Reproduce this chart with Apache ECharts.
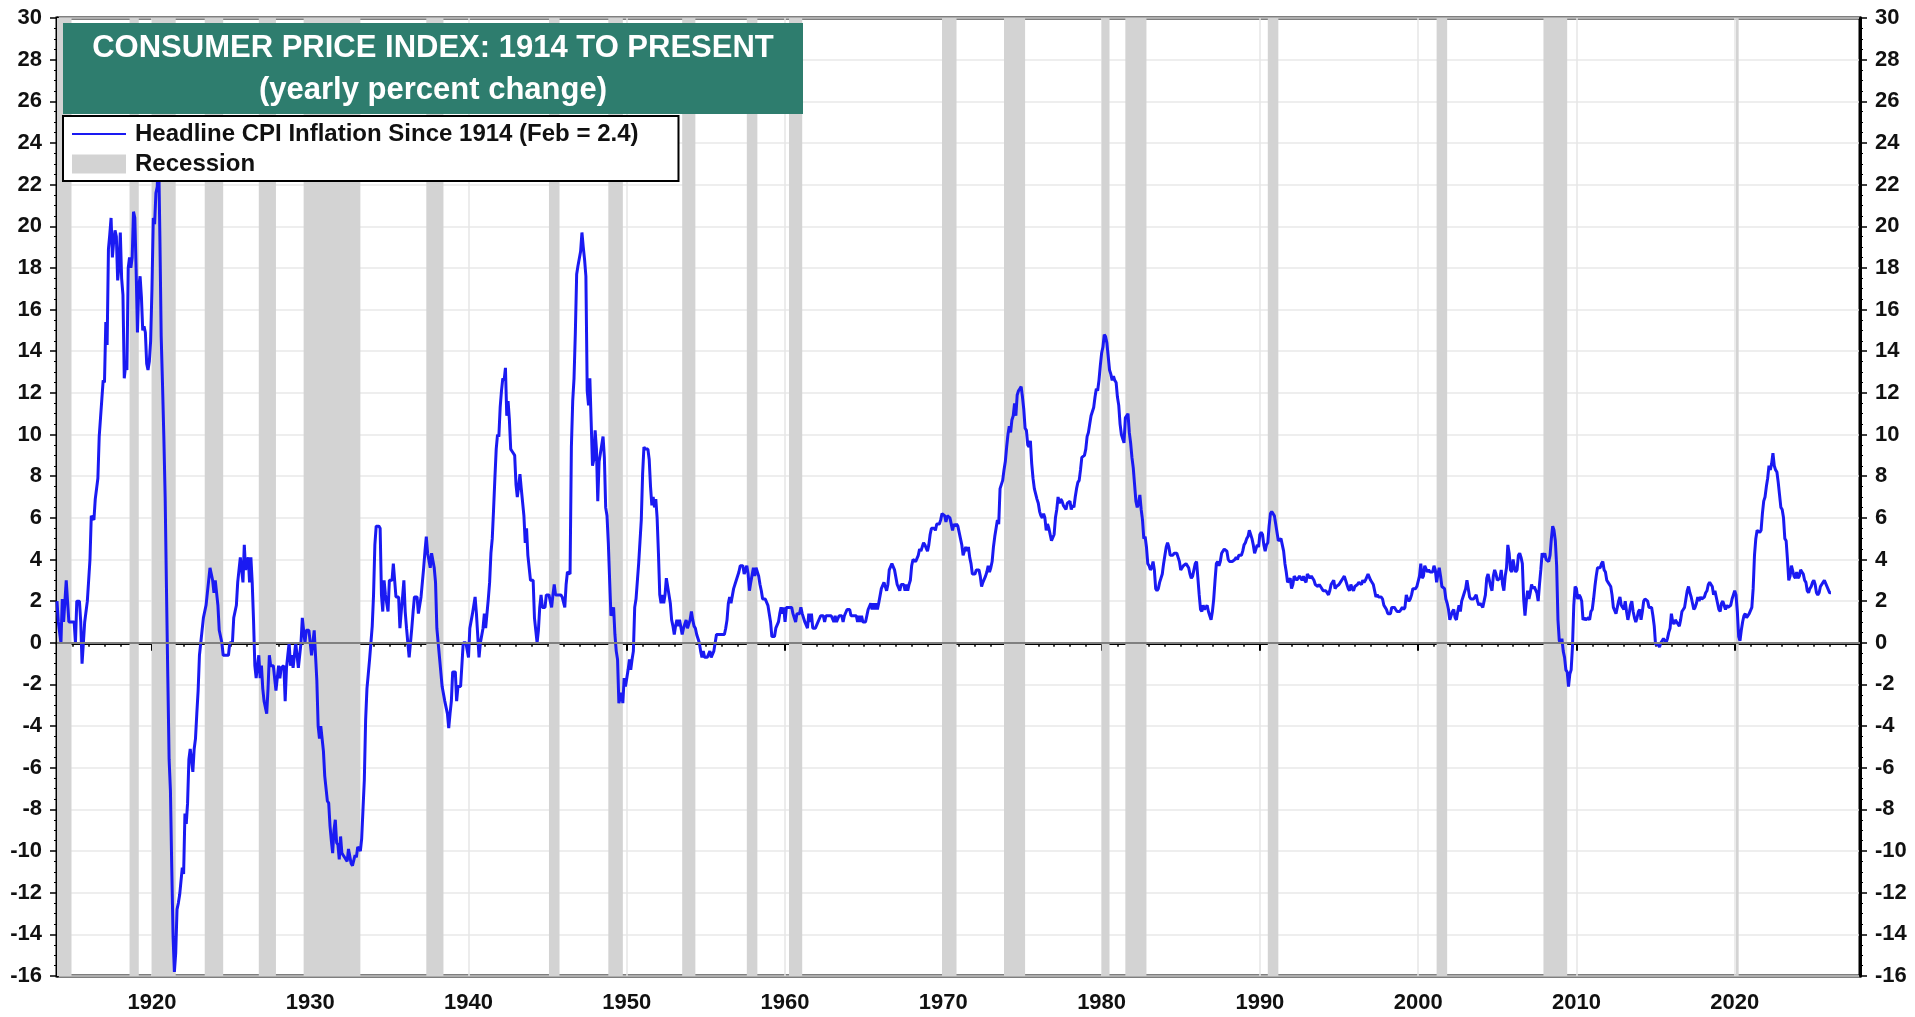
<!DOCTYPE html>
<html>
<head>
<meta charset="utf-8">
<title>Consumer Price Index: 1914 to Present</title>
<script src="https://cdn.jsdelivr.net/npm/echarts@6/dist/echarts.min.js"></script>
<style>
  html, body { margin: 0; padding: 0; background: #fff; }
  #chart { width: 1915px; height: 1017px; }
</style>
</head>
<body>
<div id="chart"></div>
<script>
// Headline CPI, yearly percent change, monthly from Jan 1914
const firstYear = 1914;
const lastAxisYear = 2027;

const cpi1910s = [
  2.0, 1.0, 1.0, 0.0, 2.1, 1.0, 1.0, 3.0, 2.0, 1.0, 1.0, 1.0,
  1.0, 1.0, 0.0, 2.0, 2.0, 2.0, 1.0, -1.0, -1.0, 1.0, 1.0, 2.0,
  3.0, 4.0, 6.1, 6.0, 5.9, 6.9, 6.9, 7.9, 9.9, 10.8, 11.7, 12.6,
  12.5, 15.4, 14.3, 18.9, 19.6, 20.4, 18.5, 19.3, 19.8, 19.5, 17.4, 18.1,
  19.7, 17.5, 16.7, 12.7, 13.3, 13.1, 18.0, 18.5, 18.0, 18.5, 20.7, 20.4,
  17.9, 14.9, 17.1, 17.6, 16.6, 15.0, 15.2, 14.9, 13.4, 13.1, 13.5, 14.5
];
const cpi1920s = [
  17.0, 20.4, 20.1, 21.6, 21.9, 23.7, 19.5, 14.7, 12.4, 9.9, 7.0, 2.6,
  -1.6, -5.6, -7.1, -10.8, -14.1, -15.8, -14.9, -12.8, -12.5, -12.1, -12.1, -10.8,
  -11.1, -8.2, -8.7, -7.7, -5.6, -5.1, -5.1, -6.2, -5.1, -4.6, -3.4, -2.3,
  -0.6, -0.6, 0.6, 1.2, 1.2, 1.8, 2.4, 3.0, 3.6, 3.6, 3.0, 2.4,
  3.0, 2.4, 1.8, 0.6, 0.6, 0.0, -0.6, -0.6, -0.6, -0.6, -0.6, 0.0,
  0.0, 0.0, 1.2, 1.2, 1.8, 2.9, 3.5, 4.1, 3.5, 2.9, 4.7, 3.5,
  3.5, 4.1, 2.9, 4.1, 2.9, 1.1, -1.1, -1.7, -1.1, -0.6, -1.7, -1.1,
  -2.2, -2.8, -2.8, -3.4, -2.2, -0.6, -1.1, -1.1, -1.1, -1.1, -2.3, -2.3,
  -1.1, -1.7, -1.2, -1.2, -1.1, -2.8, -1.2, -0.6, 0.0, -1.1, -0.6, -1.2,
  -1.2, 0.0, -0.6, -1.2, -1.2, 0.0, 1.2, 1.2, 0.0, 0.6, 0.6, 0.6
];
const cpi1930s = [
  0.0, -0.6, -0.6, 0.6, -0.6, -1.8, -4.0, -4.6, -4.0, -4.6, -5.2, -6.4,
  -7.0, -7.6, -7.7, -8.8, -9.5, -10.1, -9.0, -8.5, -9.6, -9.7, -10.4, -9.3,
  -10.1, -10.2, -10.3, -10.3, -10.5, -9.9, -9.9, -10.6, -10.7, -10.7, -10.2, -10.3,
  -9.8, -9.9, -10.0, -9.4, -8.0, -6.6, -3.7, -2.2, -1.5, -0.8, 0.0, 0.8,
  2.3, 4.7, 5.6, 5.6, 5.6, 5.5, 2.3, 1.5, 3.0, 2.3, 2.3, 1.5,
  3.0, 3.0, 3.0, 3.8, 3.8, 2.2, 2.2, 2.2, 0.7, 1.5, 2.2, 3.0,
  1.5, 0.7, 0.0, -0.7, -0.7, 0.7, 1.5, 2.2, 2.2, 2.2, 1.4, 1.4,
  2.2, 2.2, 3.6, 4.4, 5.1, 4.3, 4.3, 3.6, 4.3, 4.3, 3.6, 2.9,
  0.7, 0.0, -0.7, -0.7, -2.1, -2.1, -2.8, -2.8, -3.4, -4.1, -3.4, -2.8,
  -1.4, -1.4, -1.4, -2.8, -2.1, -2.1, -2.1, -2.1, 0.0, 0.0, 0.0, 0.0
];
const cpi1940s = [
  -0.7, 0.7, 0.7, 1.4, 1.4, 2.2, 1.4, 1.4, -0.7, 0.0, 0.0, 0.7,
  1.4, 0.7, 1.4, 2.1, 2.9, 4.3, 5.0, 6.4, 7.9, 9.3, 10.0, 9.9,
  11.3, 12.1, 12.7, 12.6, 13.2, 10.9, 11.6, 10.7, 9.3, 9.2, 9.1, 9.0,
  7.6, 7.0, 7.5, 8.1, 7.4, 7.4, 6.1, 4.8, 5.5, 4.2, 3.6, 3.0,
  3.0, 3.0, 1.2, 0.6, 0.0, 0.6, 1.7, 2.3, 1.7, 1.7, 1.7, 2.3,
  2.3, 2.3, 2.3, 1.7, 2.3, 2.8, 2.3, 2.3, 2.3, 2.3, 2.3, 2.2,
  2.2, 1.7, 2.8, 3.4, 3.4, 3.3, 9.4, 11.6, 12.7, 14.9, 17.7, 18.1,
  18.1, 18.8, 19.7, 19.0, 18.4, 17.6, 12.1, 11.4, 12.7, 10.6, 8.5, 8.8,
  10.2, 9.3, 6.8, 8.7, 9.1, 9.5, 9.9, 8.9, 6.5, 6.1, 4.8, 3.0,
  1.3, 1.3, 1.7, 0.4, -0.4, -0.8, -2.9, -2.9, -2.4, -2.9, -1.7, -2.1
];
const cpi1950s = [
  -2.1, -1.3, -0.8, -1.3, -0.8, -0.4, 1.7, 2.1, 2.1, 3.8, 3.8, 5.9,
  8.1, 9.4, 9.3, 9.3, 9.3, 8.8, 7.5, 6.6, 7.0, 6.5, 6.9, 6.0,
  4.3, 2.3, 1.9, 2.3, 1.9, 2.3, 3.1, 3.1, 2.3, 1.9, 1.1, 0.8,
  0.4, 0.8, 1.1, 0.8, 1.1, 1.1, 0.4, 0.7, 0.7, 1.1, 0.7, 0.7,
  1.1, 1.5, 1.1, 0.8, 0.7, 0.4, 0.4, 0.0, -0.4, -0.7, -0.4, -0.7,
  -0.7, -0.7, -0.7, -0.4, -0.7, -0.7, -0.4, -0.4, 0.4, 0.4, 0.4, 0.4,
  0.4, 0.4, 0.4, 0.7, 1.1, 1.9, 2.2, 1.9, 1.9, 2.6, 2.6, 3.0,
  3.0, 3.4, 3.7, 3.7, 3.7, 3.3, 3.3, 3.7, 3.3, 2.5, 2.9, 2.9,
  3.6, 3.2, 3.6, 3.6, 3.2, 2.8, 2.5, 2.1, 2.1, 2.1, 2.1, 1.8,
  1.4, 1.0, 0.3, 0.3, 0.3, 0.7, 0.7, 1.0, 1.4, 1.7, 1.4, 1.7
];
const cpi1960s = [
  1.0, 1.7, 1.7, 1.7, 1.7, 1.7, 1.4, 1.4, 1.0, 1.4, 1.4, 1.4,
  1.7, 1.4, 1.4, 1.0, 1.0, 0.7, 1.4, 1.0, 1.4, 0.7, 0.7, 0.7,
  0.7, 1.0, 1.0, 1.3, 1.3, 1.3, 1.0, 1.3, 1.3, 1.3, 1.3, 1.3,
  1.3, 1.0, 1.3, 1.0, 1.0, 1.3, 1.3, 1.3, 1.0, 1.3, 1.3, 1.6,
  1.6, 1.6, 1.3, 1.3, 1.3, 1.3, 1.3, 1.0, 1.3, 1.0, 1.3, 1.0,
  1.0, 1.0, 1.3, 1.6, 1.6, 1.9, 1.6, 1.9, 1.6, 1.9, 1.6, 1.9,
  1.9, 2.6, 2.6, 2.9, 2.9, 2.5, 2.8, 3.5, 3.5, 3.8, 3.8, 3.5,
  3.5, 2.8, 2.8, 2.5, 2.8, 2.8, 2.8, 2.5, 2.8, 2.5, 2.8, 3.0,
  3.7, 4.0, 4.0, 3.9, 3.9, 4.2, 4.5, 4.4, 4.4, 4.8, 4.7, 4.7,
  4.4, 4.7, 5.2, 5.5, 5.5, 5.5, 5.4, 5.7, 5.7, 5.7, 5.9, 6.2
];
const cpi1970s = [
  6.2, 6.1, 5.8, 6.1, 6.1, 6.0, 6.0, 5.4, 5.7, 5.6, 5.7, 5.6,
  5.3, 5.0, 4.7, 4.2, 4.4, 4.6, 4.4, 4.6, 4.1, 3.8, 3.3, 3.3,
  3.3, 3.5, 3.5, 3.5, 3.2, 2.7, 2.9, 2.9, 3.2, 3.4, 3.7, 3.4,
  3.6, 3.9, 4.6, 5.1, 5.5, 5.9, 5.7, 7.4, 7.4, 7.8, 8.3, 8.7,
  9.4, 10.0, 10.4, 10.1, 10.7, 10.9, 11.5, 10.9, 11.9, 12.1, 12.2, 12.3,
  11.8, 11.2, 10.3, 10.2, 9.5, 9.4, 9.7, 8.6, 7.9, 7.4, 7.4, 6.9,
  6.7, 6.3, 6.1, 6.0, 6.2, 6.0, 5.4, 5.7, 5.5, 5.5, 4.9, 4.9,
  5.2, 6.0, 6.4, 7.0, 6.7, 6.9, 6.8, 6.6, 6.6, 6.4, 6.7, 6.7,
  6.8, 6.4, 6.6, 6.5, 7.0, 7.4, 7.7, 7.8, 8.3, 8.9, 8.9, 9.0,
  9.3, 9.9, 10.1, 10.5, 10.9, 10.9, 11.3, 11.8, 12.2, 12.1, 12.6, 13.3
];
const cpi1980s = [
  13.9, 14.2, 14.8, 14.7, 14.4, 14.4, 13.1, 12.9, 12.6, 12.8, 12.6, 12.5,
  11.8, 11.4, 10.5, 10.0, 9.8, 9.6, 10.8, 10.8, 11.0, 10.1, 9.6, 8.9,
  8.4, 7.6, 6.8, 6.5, 6.7, 7.1, 6.4, 5.9, 5.0, 5.1, 4.6, 3.8,
  3.7, 3.5, 3.6, 3.9, 3.5, 2.6, 2.5, 2.6, 2.9, 2.9, 3.3, 3.8,
  4.2, 4.6, 4.8, 4.6, 4.2, 4.2, 4.2, 4.3, 4.3, 4.3, 4.1, 3.9,
  3.5, 3.5, 3.7, 3.7, 3.8, 3.8, 3.6, 3.3, 3.1, 3.2, 3.5, 3.8,
  3.9, 3.1, 2.3, 1.6, 1.5, 1.8, 1.6, 1.6, 1.8, 1.5, 1.3, 1.1,
  1.5, 2.1, 3.0, 3.8, 3.9, 3.7, 3.9, 4.3, 4.4, 4.5, 4.5, 4.4,
  4.0, 3.9, 3.9, 3.9, 3.9, 4.0, 4.1, 4.0, 4.2, 4.2, 4.2, 4.4,
  4.7, 4.8, 5.0, 5.1, 5.4, 5.2, 5.0, 4.7, 4.3, 4.5, 4.7, 4.6
];
const cpi1990s = [
  5.2, 5.3, 5.2, 4.7, 4.4, 4.7, 4.8, 5.6, 6.2, 6.3, 6.3, 6.1,
  5.7, 5.3, 4.9, 4.9, 5.0, 4.7, 4.4, 3.8, 3.4, 2.9, 3.0, 3.1,
  2.6, 2.8, 3.2, 3.2, 3.0, 3.1, 3.2, 3.1, 3.0, 3.2, 3.0, 2.9,
  3.3, 3.2, 3.1, 3.2, 3.2, 3.0, 2.8, 2.8, 2.7, 2.8, 2.7, 2.7,
  2.5, 2.5, 2.5, 2.4, 2.3, 2.5, 2.8, 2.9, 3.0, 2.6, 2.7, 2.7,
  2.8, 2.9, 2.9, 3.1, 3.2, 3.0, 2.8, 2.6, 2.5, 2.8, 2.6, 2.5,
  2.7, 2.7, 2.8, 2.9, 2.9, 2.8, 3.0, 2.9, 3.0, 3.0, 3.3, 3.3,
  3.0, 3.0, 2.8, 2.5, 2.2, 2.3, 2.2, 2.2, 2.2, 2.1, 1.8, 1.7,
  1.6, 1.4, 1.4, 1.4, 1.7, 1.7, 1.7, 1.6, 1.5, 1.5, 1.5, 1.6,
  1.7, 1.6, 1.7, 2.3, 2.1, 2.0, 2.1, 2.3, 2.6, 2.6, 2.6, 2.7
];
const cpi2000s = [
  2.7, 3.2, 3.8, 3.1, 3.2, 3.7, 3.7, 3.4, 3.5, 3.4, 3.4, 3.4,
  3.7, 3.5, 2.9, 3.3, 3.6, 3.2, 2.7, 2.7, 2.6, 2.1, 1.9, 1.6,
  1.1, 1.1, 1.5, 1.6, 1.2, 1.1, 1.5, 1.8, 1.5, 2.0, 2.2, 2.4,
  2.6, 3.0, 3.0, 2.2, 2.1, 2.1, 2.1, 2.2, 2.3, 2.0, 1.8, 1.9,
  1.9, 1.7, 1.7, 2.3, 3.1, 3.3, 3.0, 2.7, 2.5, 3.2, 3.5, 3.3,
  3.0, 3.0, 3.1, 3.5, 2.8, 2.5, 3.2, 3.6, 4.7, 4.3, 3.5, 3.4,
  4.0, 3.6, 3.4, 3.5, 4.2, 4.3, 4.1, 3.8, 2.1, 1.3, 2.0, 2.5,
  2.1, 2.4, 2.8, 2.6, 2.7, 2.7, 2.4, 2.0, 2.8, 3.5, 4.3, 4.1,
  4.3, 4.0, 4.0, 3.9, 4.2, 5.0, 5.6, 5.4, 4.9, 3.7, 1.1, 0.1,
  0.0, 0.2, -0.4, -0.7, -1.3, -1.4, -2.1, -1.5, -1.3, -0.2, 1.8, 2.7
];
const cpi2010s = [
  2.6, 2.1, 2.3, 2.2, 2.0, 1.1, 1.2, 1.1, 1.1, 1.2, 1.1, 1.5,
  1.6, 2.1, 2.7, 3.2, 3.6, 3.6, 3.6, 3.8, 3.9, 3.5, 3.4, 3.0,
  2.9, 2.9, 2.7, 2.3, 1.7, 1.7, 1.4, 1.7, 2.0, 2.2, 1.8, 1.7,
  1.6, 2.0, 1.5, 1.1, 1.4, 1.8, 2.0, 1.5, 1.2, 1.0, 1.2, 1.5,
  1.6, 1.1, 1.5, 2.0, 2.1, 2.1, 2.0, 1.7, 1.7, 1.7, 1.3, 0.8,
  -0.1, 0.0, -0.1, -0.2, 0.0, 0.1, 0.2, 0.2, 0.0, 0.2, 0.5, 0.7,
  1.4, 1.0, 0.9, 1.1, 1.0, 1.0, 0.8, 1.1, 1.5, 1.6, 1.7, 2.1,
  2.5, 2.7, 2.4, 2.2, 1.9, 1.6, 1.7, 1.9, 2.2, 2.0, 2.2, 2.1,
  2.1, 2.2, 2.4, 2.5, 2.8, 2.9, 2.9, 2.7, 2.3, 2.5, 2.2, 1.9,
  1.6, 1.5, 1.9, 2.0, 1.8, 1.6, 1.8, 1.7, 1.7, 1.8, 2.1, 2.3
];
const cpi2020s = [
  2.5, 2.3, 1.5, 0.3, 0.1, 0.6, 1.0, 1.3, 1.4, 1.2, 1.2, 1.4,
  1.4, 1.7, 2.6, 4.2, 5.0, 5.4, 5.4, 5.3, 5.4, 6.2, 6.8, 7.0,
  7.5, 7.9, 8.5, 8.3, 8.6, 9.1, 8.5, 8.3, 8.2, 7.7, 7.1, 6.5,
  6.4, 6.0, 5.0, 4.9, 4.0, 3.0, 3.2, 3.7, 3.7, 3.2, 3.1, 3.4,
  3.1, 3.2, 3.5, 3.4, 3.3, 3.0, 2.9, 2.5, 2.4, 2.6, 2.7, 2.9,
  3.0, 2.8, 2.4, 2.3, 2.4, 2.7, 2.7, 2.9, 3.0, null, 2.7, 2.7,
  2.4, 2.4
];

// NBER recessions (first and last month), clipped to the axis start
const recessionStart = ['1914-01', '1918-08', '1920-01', '1923-05', '1926-10', '1929-08', '1937-05',
  '1945-02', '1948-11', '1953-07', '1957-08', '1960-04', '1969-12', '1973-11', '1980-01',
  '1981-07', '1990-07', '2001-03', '2007-12', '2020-02'];
const recessionEnd = ['1914-12', '1919-03', '1921-07', '1924-07', '1927-11', '1933-03', '1938-06',
  '1945-10', '1949-10', '1954-05', '1958-04', '1961-02', '1970-11', '1975-03', '1980-07',
  '1982-11', '1991-03', '2001-11', '2009-06', '2020-04'];

const yTicks = { min: -16, max: 30, step: 2 };

const lineName = 'Headline CPI Inflation Since 1914 (Feb = 2.4)';
const recessionName = 'Recession';

// ---- build the monthly category axis and series
const months = [];
for (let y = firstYear; y <= lastAxisYear; y++) {
  for (let m = 1; m <= 12; m++) months.push(y + '-' + (m < 10 ? '0' + m : m));
}
const cpi = [].concat(cpi1910s, cpi1920s, cpi1930s, cpi1940s, cpi1950s,
  cpi1960s, cpi1970s, cpi1980s, cpi1990s, cpi2000s, cpi2010s, cpi2020s);

const isYearStart = (i, v) => v.slice(5) === '01';
const isDecadeStart = (i, v) => v.slice(5) === '01' && (+v.slice(0, 4)) % 10 === 0;

const FONT = "'Liberation Sans', Arial, Helvetica, sans-serif";
const labelStyle = { color: '#111', fontSize: 22, fontWeight: 'bold', fontFamily: FONT };
const LINE_BLUE = '#1a1af2';

const chart = echarts.init(document.getElementById('chart'), null, { renderer: 'canvas' });

const yAxisBase = (position) => ({
  type: 'value',
  position: position,
  min: yTicks.min,
  max: yTicks.max,
  interval: yTicks.step,
  axisLine: { show: true, lineStyle: { color: '#000', width: 3 } },
  axisTick: { show: true, inside: false, length: 7, lineStyle: { color: '#000', width: 1.5 } },
  minorTick: { show: true, splitNumber: 4, length: 3, lineStyle: { color: '#000', width: 1 } },
  axisLabel: Object.assign({ margin: 15 }, labelStyle),
  splitLine: { show: position === 'left', lineStyle: { color: '#e9e9e9', width: 1.5 } },
  minorSplitLine: { show: false }
});

chart.setOption({
  animation: false,
  backgroundColor: '#fff',
  grid: {
    left: 57, right: 55, top: 18, bottom: 41,
    show: true, borderColor: '#000', borderWidth: 3, backgroundColor: '#fff'
  },
  legend: {
    orient: 'vertical',
    left: 63,
    top: 116,
    backgroundColor: '#fff',
    borderColor: '#000',
    borderWidth: 2,
    padding: [6, 40, 5, 8],
    itemGap: 6,
    itemWidth: 54,
    itemHeight: 19,
    textStyle: { color: '#111', fontSize: 24, fontWeight: 'bold', fontFamily: FONT, padding: [0, 0, 0, 4] },
    data: [
      { name: lineName, itemStyle: { opacity: 0 } },
      { name: recessionName, icon: 'rect' }
    ],
    selectedMode: false,
    z: 20
  },
  xAxis: [
    {
      type: 'category',
      data: months,
      boundaryGap: false,
      position: 'bottom',
      axisLine: { show: true, lineStyle: { color: '#000', width: 3 } },
      axisTick: { show: true, interval: isYearStart, length: 4, lineStyle: { color: '#000', width: 1.5 } },
      axisLabel: Object.assign({
        interval: isDecadeStart,
        margin: 16,
        formatter: (v) => v.slice(0, 4)
      }, labelStyle),
      splitLine: { show: true, interval: isDecadeStart, lineStyle: { color: '#e6e6e6', width: 1.5 } }
    },
    {
      // longer decade ticks on the same scale
      type: 'category',
      data: months,
      boundaryGap: false,
      position: 'bottom',
      axisLine: { show: false },
      axisTick: { show: true, interval: isDecadeStart, length: 8, lineStyle: { color: '#000', width: 2 } },
      axisLabel: { show: false },
      splitLine: { show: false }
    }
  ],
  yAxis: [yAxisBase('left'), yAxisBase('right')],
  series: [
    {
      name: recessionName,
      type: 'line',
      data: [],
      color: '#d3d3d3',
      z: 1,
      silent: true,
      markArea: {
        silent: true,
        itemStyle: { color: '#d3d3d3', opacity: 1 },
        data: recessionStart.map((s, i) => [{ xAxis: s }, { xAxis: recessionEnd[i] }])
      },
      markLine: {
        silent: true,
        symbol: 'none',
        label: { show: false },
        lineStyle: { color: '#808080', width: 2, type: 'solid' },
        data: [{ yAxis: 0 }]
      }
    },
    {
      name: lineName,
      type: 'line',
      data: cpi,
      color: LINE_BLUE,
      symbol: 'none',
      connectNulls: true,
      lineStyle: { color: LINE_BLUE, width: 3 },
      z: 3
    }
  ],
  graphic: [
    {
      type: 'rect',
      z: 30,
      shape: { x: 63, y: 23, width: 740, height: 91 },
      style: { fill: '#2e7d6e' }
    },
    {
      type: 'text',
      z: 31,
      x: 433, y: 48,
      style: {
        text: 'CONSUMER PRICE INDEX: 1914 TO PRESENT',
        fill: '#fff', font: 'bold 31px ' + FONT,
        textAlign: 'center', textVerticalAlign: 'middle'
      }
    },
    {
      type: 'text',
      z: 31,
      x: 433, y: 90,
      style: {
        text: '(yearly percent change)',
        fill: '#fff', font: 'bold 31px ' + FONT,
        textAlign: 'center', textVerticalAlign: 'middle'
      }
    }
  ]
});
</script>
</body>
</html>
